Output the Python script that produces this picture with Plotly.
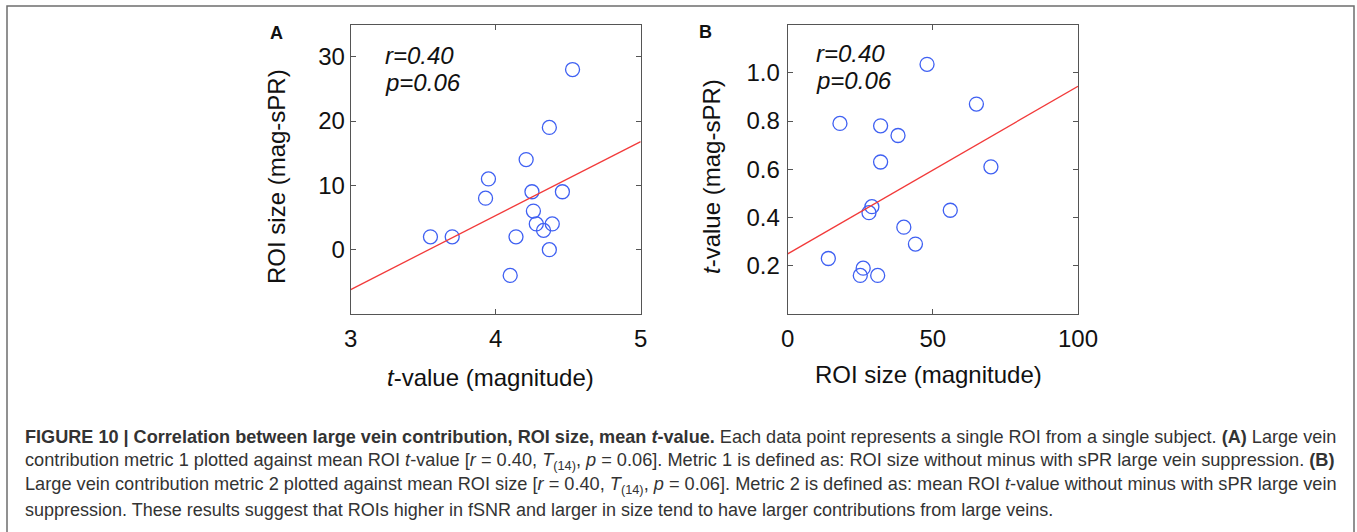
import plotly.graph_objects as go

W, H = 1357, 532

# ---- Data ----
a_tvalue = [3.55, 3.70, 3.93, 3.95, 4.21, 4.37, 4.53, 4.25, 4.46, 4.26, 4.28, 4.39, 4.33, 4.14, 4.37, 4.10]
a_roi_size_diff = [2, 2, 8, 11, 14, 19, 28, 9, 9, 6, 4, 4, 3, 2, 0, -4]
a_fit_x = [3, 5]
a_fit_y = [-6.2, 16.8]

b_roi_size = [18, 14, 26, 25, 31, 32, 32, 38, 29, 28, 40, 44, 48, 56, 65, 70]
b_tvalue_diff = [0.79, 0.23, 0.19, 0.16, 0.16, 0.78, 0.63, 0.74, 0.445, 0.42, 0.36, 0.29, 1.035, 0.43, 0.87, 0.61]
b_fit_x = [0, 100]
b_fit_y = [0.249, 0.944]

a_xticks = [3, 4, 5]
a_yticks = [0, 10, 20, 30]
b_xticks = [0, 50, 100]
b_yticks = [0.2, 0.4, 0.6, 0.8, 1.0]
b_yticklabels = ["0.2", "0.4", "0.6", "0.8", "1.0"]

stats_r = "r=0.40"
stats_p = "p=0.06"

caption_lines = [
    "<b>FIGURE 10 | Correlation between large vein contribution, ROI size, mean <i>t</i>-value.</b> Each data point represents a single ROI from a single subject. <b>(A)</b> Large vein",
    "contribution metric 1 plotted against mean ROI <i>t</i>-value [<i>r</i> = 0.40, <i>T</i><sub>(14)</sub>, <i>p</i> = 0.06]. Metric 1 is defined as: ROI size without minus with sPR large vein suppression. <b>(B)</b>",
    "Large vein contribution metric 2 plotted against mean ROI size [<i>r</i> = 0.40, <i>T</i><sub>(14)</sub>, <i>p</i> = 0.06]. Metric 2 is defined as: mean ROI <i>t</i>-value without minus with sPR large vein",
    "suppression. These results suggest that ROIs higher in fSNR and larger in size tend to have larger contributions from large veins.",
]
caption_sizes = [18.1, 18.2, 18.2, 18]

# ---- Style ----
FONT = "Liberation Sans, Arial, Helvetica, sans-serif"
CAP_FONT = "Liberation Sans Narrow, Arial Narrow, Liberation Sans, Arial, sans-serif"
BLUE = "#3f60f2"
RED = "#f23a3a"
AXC = "#555555"


def px(x):
    return x / W


def py(y):
    return 1 - y / H


fig = go.Figure()

marker = dict(symbol="circle-open", size=14, color=BLUE, line=dict(width=1.3, color=BLUE))

fig.add_trace(go.Scatter(x=a_tvalue, y=a_roi_size_diff, mode="markers", marker=marker,
                         xaxis="x", yaxis="y", showlegend=False, cliponaxis=False))
fig.add_trace(go.Scatter(x=a_fit_x, y=a_fit_y, mode="lines", line=dict(color=RED, width=1.3),
                         xaxis="x", yaxis="y", showlegend=False))
fig.add_trace(go.Scatter(x=b_roi_size, y=b_tvalue_diff, mode="markers", marker=marker,
                         xaxis="x2", yaxis="y2", showlegend=False, cliponaxis=False))
fig.add_trace(go.Scatter(x=b_fit_x, y=b_fit_y, mode="lines", line=dict(color=RED, width=1.3),
                         xaxis="x2", yaxis="y2", showlegend=False))

axis_common = dict(showline=True, linecolor=AXC, linewidth=1, mirror="ticks", ticks="inside",
                   ticklen=5, tickcolor=AXC, tickwidth=1, showgrid=False, zeroline=False,
                   automargin=False,
                   tickfont=dict(family=FONT, size=24, color="#111111"))

ydom = [py(314), py(24.5)]
fig.update_layout(
    width=W, height=H, margin=dict(l=0, r=0, t=0, b=0, pad=0, autoexpand=False), autosize=False,
    paper_bgcolor="white", plot_bgcolor="white",
    xaxis=dict(domain=[px(350.7), px(640.7)], range=[3, 5], tickvals=a_xticks, anchor="y",
               ticklabelstandoff=3, **axis_common),
    yaxis=dict(domain=ydom, range=[-10, 35], tickvals=a_yticks, anchor="x",
               ticklabelstandoff=0, **axis_common),
    xaxis2=dict(domain=[px(787.7), px(1078)], range=[0, 100], tickvals=b_xticks, anchor="y2",
                ticklabelstandoff=3, **axis_common),
    yaxis2=dict(domain=ydom, range=[0, 1.2], tickvals=b_yticks, ticktext=b_yticklabels, anchor="x2",
                ticklabelstandoff=2, **axis_common),
)

ann = []


def add_text(x, y, text, size, xanchor="center", yanchor="middle", angle=0, family=FONT,
             color="#111111", align="center"):
    ann.append(dict(x=px(x), y=py(y), xref="paper", yref="paper", text=text, showarrow=False,
                    xanchor=xanchor, yanchor=yanchor, textangle=angle, align=align,
                    font=dict(family=family, size=size, color=color)))


# panel labels
add_text(276, 33, "<b>A</b>", 18)
add_text(705, 32, "<b>B</b>", 18)

# stats
add_text(383, 55, "<i>" + stats_r + "</i>", 24, xanchor="left", align="left")
add_text(383, 83, "<i>" + stats_p + "</i>", 24, xanchor="left", align="left")
add_text(814, 53, "<i>" + stats_r + "</i>", 24, xanchor="left", align="left")
add_text(814, 81, "<i>" + stats_p + "</i>", 24, xanchor="left", align="left")

# axis titles
add_text(490, 377, "<i>t</i>-value (magnitude)", 24)
add_text(277, 177, "ROI size (mag-sPR)", 24, angle=-90)
add_text(928, 374, "ROI size (magnitude)", 24)
add_text(712, 177, "<i>t</i>-value (mag-sPR)", 24, angle=-90)

# caption
for i, line in enumerate(caption_lines):
    add_text(23, 437 + i * 24.3, line, caption_sizes[i], xanchor="left", align="left",
             family=CAP_FONT, color="#333333")

fig.update_layout(annotations=ann)

# outer frame (open at the bottom)
fig.add_shape(type="path", xref="paper", yref="paper",
              path=f"M {px(7)} 0 L {px(7)} {py(6)} L {px(1354)} {py(6)} L {px(1354)} 0",
              line=dict(color="#6e6e6e", width=1.5))

fig.write_html("out.html", config={"responsive": False})
